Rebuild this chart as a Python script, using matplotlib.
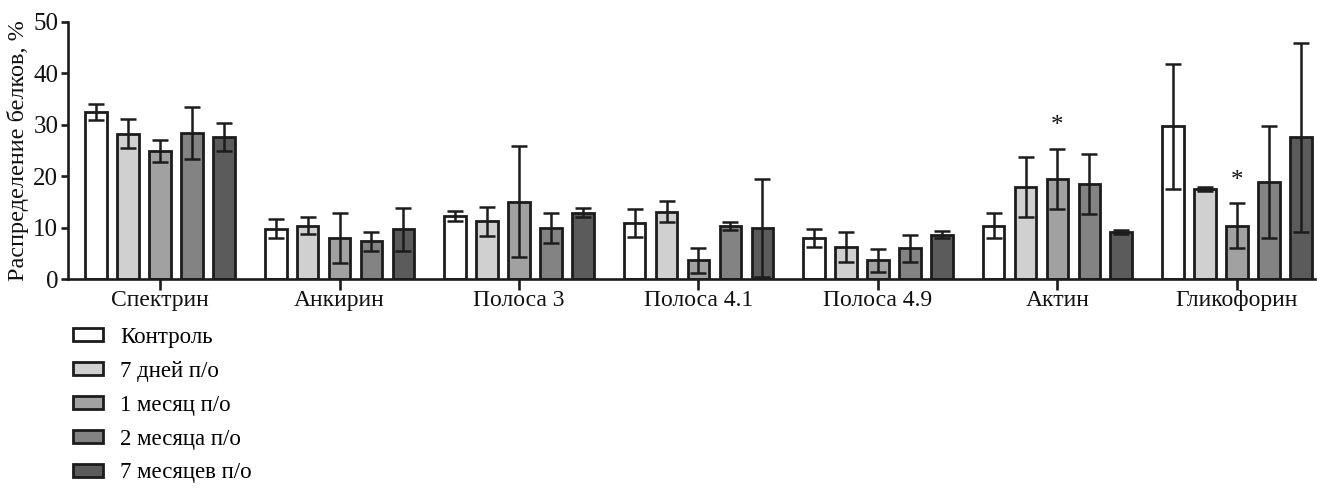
import numpy as np
import matplotlib
matplotlib.use("Agg")
import matplotlib.pyplot as plt
from matplotlib.patches import Patch

plt.rcParams['font.family'] = ['Liberation Serif', 'DejaVu Serif']

proteins = ["Спектрин", "Анкирин", "Полоса 3", "Полоса 4.1", "Полоса 4.9", "Актин", "Гликофорин"]
groups = ["Контроль", "7 дней п/о", "1 месяц п/о", "2 месяца п/о", "7 месяцев п/о"]

control = [32.5, 9.8, 12.3, 10.9, 8.0, 10.4, 29.7]
control_err = [1.5, 1.9, 1.0, 2.7, 1.8, 2.5, 12.2]
days7 = [28.3, 10.4, 11.2, 13.1, 6.3, 17.9, 17.5]
days7_err = [2.9, 1.6, 2.8, 2.0, 2.9, 5.8, 0.4]
month1 = [24.9, 8.0, 15.0, 3.6, 3.6, 19.5, 10.4]
month1_err = [2.1, 4.9, 10.8, 2.5, 2.3, 5.8, 4.3]
month2 = [28.4, 7.3, 9.9, 10.3, 6.0, 18.5, 18.8]
month2_err = [5.1, 1.9, 2.9, 0.8, 2.6, 5.9, 10.9]
month7 = [27.6, 9.7, 12.9, 9.9, 8.6, 9.2, 27.6]
month7_err = [2.7, 4.2, 0.9, 9.6, 0.7, 0.4, 18.4]

# significance marks: (protein index, group index)
significant = [(5, 2), (6, 2)]

series = [control, days7, month1, month2, month7]
errors = [control_err, days7_err, month1_err, month2_err, month7_err]
colors = ["#ffffff", "#d0d0d0", "#a1a1a1", "#838383", "#5b5b5b"]
edge = "#1c1c1c"

fig = plt.figure(figsize=(13.17, 4.88), dpi=100)
ax = fig.add_axes([68 / 1317, 1 - 279 / 488, (1315 - 68) / 1317, (279 - 22) / 488])

x = np.arange(len(proteins))
step = 0.178
width = 0.121
for i, (vals, errs, col) in enumerate(zip(series, errors, colors)):
    pos = x + (i - 2) * step
    ax.bar(pos, vals, width=width, color=col, edgecolor=edge, linewidth=2.0,
           label=groups[i], zorder=2)
    ax.errorbar(pos, vals, yerr=errs, fmt='none', ecolor=edge, elinewidth=1.8,
                capsize=5.5, capthick=1.8, zorder=3)

for p, g in significant:
    top = series[g][p] + errors[g][p]
    ax.text(x[p] + (g - 2) * step, top + 4.4, "*", ha='center', va='center',
            fontsize=18, color='#111111')

ax.set_xlim(-0.513, 6.435)
ax.set_ylim(0, 50)
ax.set_yticks(range(0, 51, 10))
ax.set_xticks(x)
ax.set_xticklabels(proteins)
ax.spines['top'].set_visible(False)
ax.spines['right'].set_visible(False)
for s in ('left', 'bottom'):
    ax.spines[s].set_linewidth(1.9)
    ax.spines[s].set_color(edge)
ax.tick_params(axis='y', length=5, width=1.9, labelsize=18, pad=2, colors=edge)
ax.tick_params(axis='x', length=8, width=1.9, labelsize=17, pad=0, colors=edge)
for lab in ax.get_xticklabels() + ax.get_yticklabels():
    lab.set_color('#111111')
ax.set_ylabel("Распределение белков, %", fontsize=17.5, labelpad=3, color='#111111')

handles = [Patch(facecolor=c, edgecolor=edge, linewidth=2.0) for c in colors]
fig.legend(handles, groups, loc='upper left', bbox_to_anchor=(73 / 1317, 1 - 327 / 488),
           frameon=False, fontsize=16.5, handlelength=1.3, handleheight=0.5,
           labelspacing=0.56, handletextpad=0.75, borderaxespad=0, borderpad=0)

fig.savefig("out.png", dpi=100)
